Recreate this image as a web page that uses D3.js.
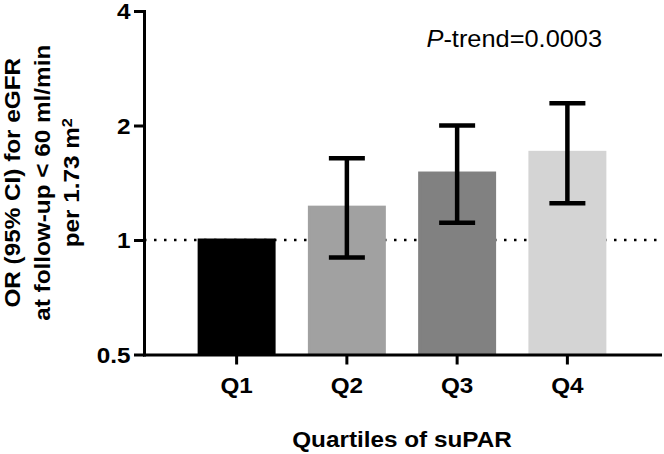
<!DOCTYPE html>
<html>
<head>
<meta charset="utf-8">
<script src="https://cdn.jsdelivr.net/npm/d3@7"></script>
<style>
  html, body { margin: 0; padding: 0; background: #fff; }
  svg { display: block; }
  text { font-family: "Liberation Sans", Arial, Helvetica, sans-serif; fill: #000; }
</style>
</head>
<body>
<svg id="chart" width="664" height="454"></svg>
<script>
// ---- data ----
const categories = ["Q1", "Q2", "Q3", "Q4"];
const orValues   = [1.00, 1.22, 1.50, 1.70];
const ciLower    = [null, 0.90, 1.11, 1.25];
const ciUpper    = [null, 1.64, 2.00, 2.29];
const yTickValues = [0.5, 1, 2, 4];
const yTickLabels = ["0.5", "1", "2", "4"];
const referenceOR = 1;
const pTrendLabel = "-trend=0.0003";
const xTitle = "Quartiles of suPAR";
const yTitleLines = ["OR (95% CI) for eGFR", "at follow-up < 60 ml/min", "per 1.73 m"];

// ---- styles ----
const barColors = ["#000000", "#a1a1a1", "#818181", "#d4d4d4"];
const stretch = 1.08;

const svg = d3.select("#chart");
const mLeft = 144, mRight = 660, mTop = 11, mBottom = 354.5;

const x = d3.scaleBand().domain(categories).range([mLeft, mRight])
  .paddingInner(0.32).paddingOuter(0.5);
const y = d3.scaleLog().base(2).domain([0.5, 4]).range([mBottom, mTop]);
const color = d3.scaleOrdinal().domain(categories).range(barColors);

const rows = categories.map((c, i) => ({ c, v: orValues[i], lo: ciLower[i], hi: ciUpper[i] }));

// reference dotted line
svg.append("line")
  .attr("x1", mLeft).attr("x2", mRight)
  .attr("y1", y(referenceOR)).attr("y2", y(referenceOR))
  .attr("stroke", "#000").attr("stroke-width", 2.5)
  .attr("stroke-dasharray", "2.5 7.5");

// bars
svg.append("g").selectAll("rect").data(rows).join("rect")
  .attr("x", d => x(d.c))
  .attr("width", x.bandwidth())
  .attr("y", d => y(d.v))
  .attr("height", d => y(0.5) - y(d.v))
  .attr("fill", d => color(d.c))
  .attr("stroke", d => color(d.c))
  .attr("stroke-width", 3);

// error bars
const eb = svg.append("g").selectAll("g").data(rows.filter(d => d.lo != null)).join("g")
  .attr("stroke", "#000").attr("stroke-width", 4.5);
const cx = d => x(d.c) + x.bandwidth() / 2;
eb.append("line").attr("x1", cx).attr("x2", cx)
  .attr("y1", d => y(d.lo)).attr("y2", d => y(d.hi));
eb.append("line").attr("x1", d => cx(d) - 18).attr("x2", d => cx(d) + 18)
  .attr("y1", d => y(d.hi)).attr("y2", d => y(d.hi));
eb.append("line").attr("x1", d => cx(d) - 18).attr("x2", d => cx(d) + 18)
  .attr("y1", d => y(d.lo)).attr("y2", d => y(d.lo));

// y axis
const yAxis = svg.append("g").attr("transform", `translate(${mLeft},0)`)
  .call(d3.axisLeft(y).tickValues(yTickValues)
    .tickFormat((d, i) => yTickLabels[i]).tickSize(10).tickSizeOuter(0));
yAxis.select(".domain").attr("stroke-width", 3).attr("stroke-linecap", "square");
yAxis.selectAll(".tick line").attr("stroke-width", 3);
yAxis.selectAll(".tick text")
  .attr("x", 0).attr("dy", "0.35em")
  .attr("transform", `translate(-13.5,0) scale(${stretch},1)`)
  .attr("text-anchor", "end")
  .style("font-size", "22.5px").style("font-weight", "bold");

// x axis
const xAxis = svg.append("g").attr("transform", `translate(0,${mBottom})`)
  .call(d3.axisBottom(x).tickSize(10).tickSizeOuter(0));
xAxis.select(".domain").attr("stroke-width", 3).attr("stroke-linecap", "square");
xAxis.selectAll(".tick line").attr("stroke-width", 3);
xAxis.selectAll(".tick text")
  .attr("y", 0).attr("dy", 0)
  .attr("transform", `translate(0,38) scale(${stretch},1)`)
  .style("font-size", "22.5px").style("font-weight", "bold");

// x title
svg.append("text")
  .attr("transform", `translate(${(mLeft + mRight) / 2},446.5) scale(${stretch},1)`)
  .attr("text-anchor", "middle")
  .style("font-size", "22.5px").style("font-weight", "bold")
  .text(xTitle);

// y title
const yMid = (mTop + mBottom) / 2;
const baselines = [19.5, 49.5, 79];
yTitleLines.forEach((line, i) => {
  const t = svg.append("text")
    .attr("transform", `translate(${baselines[i]},${yMid}) rotate(-90) scale(${stretch},1)`)
    .attr("text-anchor", "middle")
    .style("font-size", "22.5px").style("font-weight", "bold")
    .text(line);
  if (i === yTitleLines.length - 1) {
    t.append("tspan").attr("dy", "-0.45em").style("font-size", "15px").text("2");
  }
});

// P-trend annotation
const pt = svg.append("text")
  .attr("transform", `translate(426.5,46.5) scale(${stretch},1)`)
  .style("font-size", "23.5px");
pt.append("tspan").style("font-style", "italic").text("P");
pt.append("tspan").text(pTrendLabel);
</script>
</body>
</html>
